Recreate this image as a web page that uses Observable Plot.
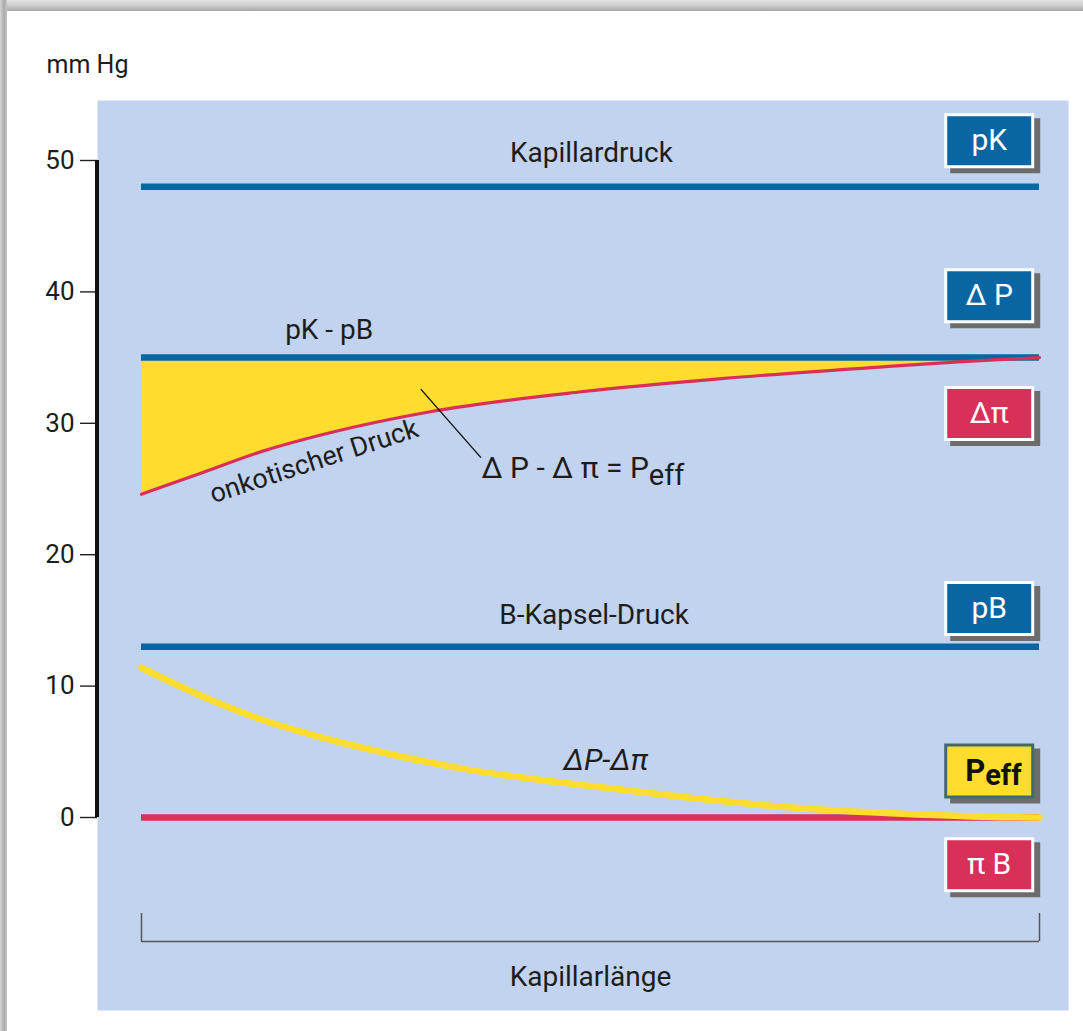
<!DOCTYPE html>
<html><head><meta charset="utf-8">
<script src="https://cdn.jsdelivr.net/npm/d3@7"></script>
<script src="https://cdn.jsdelivr.net/npm/@observablehq/plot@0.6"></script>
<style>
body{margin:0;background:#fff;}
#wrap{position:relative;width:1083px;height:1031px;overflow:hidden;background:#fff;}
#chart{position:absolute;left:0;top:0;}
#topband{position:absolute;left:0;top:0;width:1083px;height:11px;background:linear-gradient(#e4e4e4,#cfcfcf 45%,#a8a8a8);}
#leftband{position:absolute;left:0;top:0;width:7px;height:1031px;background:linear-gradient(90deg,#d4d4d4,#a9a9a9 60%,#c9c9c9);}
</style></head>
<body><div id="wrap"><div id="chart"></div><div id="topband"></div><div id="leftband"></div></div>
<script>
// ---- data ----
const yTicks = [0, 10, 20, 30, 40, 50];
const lineNames = ["Kapillardruck", "pK - pB", "B-Kapsel-Druck", "πB"];
const lineValues = [48, 35, 13, 0];

const oncPos = [0, 6.2, 13.6, 21.1, 32.3, 49.0, 64.6, 82.5, 91.4, 100];
const oncVal = [24.6, 26.1, 27.9, 29.3, 30.9, 32.4, 33.4, 34.3, 34.7, 35.0];

const peffPos = [0, 6.2, 13.6, 21.1, 28.5, 35.9, 43.4, 51.2, 62.4, 73.5, 84.7, 95.8, 100];
const peffVal = [11.4, 9.4, 7.4, 5.9, 4.7, 3.7, 2.95, 2.3, 1.4, 0.7, 0.28, 0.02, 0];

const badgeLabels = ["pK", "Δ P", "Δπ", "pB", "Peff", "π B"];
const badgeLevels = [51.5, 39.7, 30.75, 15.9, 3.54, -3.6];

// ---- styles ----
const FONT = "Roboto, 'Open Sans', sans-serif";
const PANEL = "#c2d3ef";
const BLUE = "#0a66a2";
const RED = "#d9305a";
const YELLOW = "#fedd2e";
const TXT = "#1d1d1b";
const BADGE_X = 94.4;

const onc = oncPos.map((p, i) => ({pos: p, val: oncVal[i]}));
const peff = peffPos.map((p, i) => ({pos: p, val: peffVal[i]}));

const boxSym = {draw(c) { c.moveTo(-43.5, -26); c.lineTo(43.5, -26); c.lineTo(43.5, 26); c.lineTo(-43.5, 26); c.closePath(); }};

const badgeStyle = [
  {fill: BLUE, stroke: "#fff", text: "#fff"},
  {fill: BLUE, stroke: "#fff", text: "#fff"},
  {fill: RED, stroke: "#fff", text: "#fff"},
  {fill: BLUE, stroke: "#fff", text: "#fff"},
  {fill: YELLOW, stroke: "#3e6c6c", text: "#111"},
  {fill: RED, stroke: "#fff", text: "#fff"}
];

function badge(i) {
  const d = [badgeLevels[i]];
  const s = badgeStyle[i];
  const marks = [
    Plot.dot(d, {x: BADGE_X, y: v => v, symbol: boxSym, r: 10, fill: "#6c6c6c", stroke: "#6c6c6c", strokeWidth: 3, dx: 6, dy: 5}),
    Plot.dot(d, {x: BADGE_X, y: v => v, symbol: boxSym, r: 10, fill: s.fill, stroke: s.stroke, strokeWidth: 3})
  ];
  const lab = badgeLabels[i];
  if (lab === "Peff") {
    marks.push(Plot.text(d, {x: BADGE_X, y: v => v, text: () => "P", textAnchor: "end", dx: -4, fontSize: 31, fontWeight: "bold", fill: s.text}));
    marks.push(Plot.text(d, {x: BADGE_X, y: v => v, text: () => "eff", textAnchor: "start", dx: -4, dy: 5, fontSize: 29, fontWeight: "bold", fill: s.text}));
  } else {
    marks.push(Plot.text(d, {x: BADGE_X, y: v => v, text: () => lab, fontSize: 30, fill: s.text}));
  }
  return marks;
}

const chart = Plot.plot({
  width: 1083, height: 1031,
  marginLeft: 141, marginRight: 44, marginTop: 160, marginBottom: 214,
  x: {domain: [0, 100], axis: null, label: null},
  y: {domain: [0, 50], axis: null, label: null},
  style: {background: "transparent", fontFamily: FONT, overflow: "visible"},
  marks: [
    Plot.frame({fill: PANEL, stroke: null, insetLeft: -44, insetRight: -29, insetTop: -60, insetBottom: -193}),
    Plot.axisY({ticks: yTicks, label: null, tickSize: 17, tickPadding: 6, dx: -44, fontSize: 26, stroke: "#222", fill: TXT, strokeWidth: 1.4, tickFormat: d => String(d)}),
    Plot.ruleX([0], {y1: 0, y2: 50, dx: -44.5, stroke: "#111", strokeWidth: 4}),
    Plot.text(["mm Hg"], {frameAnchor: "top-left", text: d => d, dx: -95, dy: -88, textAnchor: "start", lineAnchor: "bottom", fontSize: 25, fill: TXT}),

    Plot.areaY(onc, {x: "pos", y1: "val", y2: lineValues[1], fill: YELLOW, curve: "monotone-x"}),
    Plot.ruleY(lineValues.slice(0, 3), {stroke: BLUE, strokeWidth: 6.5}),
    Plot.ruleY(lineValues.slice(3), {stroke: RED, strokeWidth: 6.5}),
    Plot.line(onc, {x: "pos", y: "val", stroke: RED, strokeWidth: 3.2, curve: "monotone-x"}),
    Plot.line(peff, {x: "pos", y: "val", stroke: YELLOW, strokeWidth: 6.5, curve: "monotone-x"}),

    Plot.text([lineNames[0]], {x: 50.1, y: 49.9, text: d => d, lineAnchor: "bottom", fontSize: 28, fill: TXT}),
    Plot.text([lineNames[1]], {x: 20.9, y: 36.45, text: d => d, lineAnchor: "bottom", fontSize: 28, fill: TXT}),
    Plot.text([lineNames[2]], {x: 50.4, y: 14.76, text: d => d, lineAnchor: "bottom", fontSize: 28, fill: TXT}),
    Plot.text(["onkotischer Druck"], {x: 19.2, y: 27.1, text: d => d, rotate: -18, fontSize: 27, fill: TXT}),
    Plot.link([0], {x1: 31.1, y1: 32.6, x2: 37.8, y2: 27.39, stroke: "#111", strokeWidth: 1.4}),
    Plot.text(["Δ P - Δ π = P"], {x: 56.5, y: 25.87, text: d => d, textAnchor: "end", lineAnchor: "bottom", fontSize: 30, fill: TXT}),
    Plot.text(["eff"], {x: 56.5, y: 25.27, text: d => d, textAnchor: "start", lineAnchor: "bottom", fontSize: 29, fill: TXT}),
    Plot.text(["ΔP-Δπ"], {x: 51.7, y: 3.58, text: d => d, lineAnchor: "bottom", fontStyle: "italic", fontSize: 30, fill: TXT}),

    Plot.axisX({ticks: [0, 100], label: null, tickSize: 28, tickFormat: () => "", dy: 96, stroke: "#555", strokeWidth: 1.5}),
    Plot.ruleY([0], {dy: 124, stroke: "#555", strokeWidth: 1.5}),
    Plot.text(["Kapillarlänge"], {x: 50, y: -12.8, text: d => d, lineAnchor: "bottom", fontSize: 28, fill: TXT}),

    badgeLabels.map((_, i) => badge(i))
  ]
});
document.getElementById("chart").appendChild(chart);
</script>
</body></html>
